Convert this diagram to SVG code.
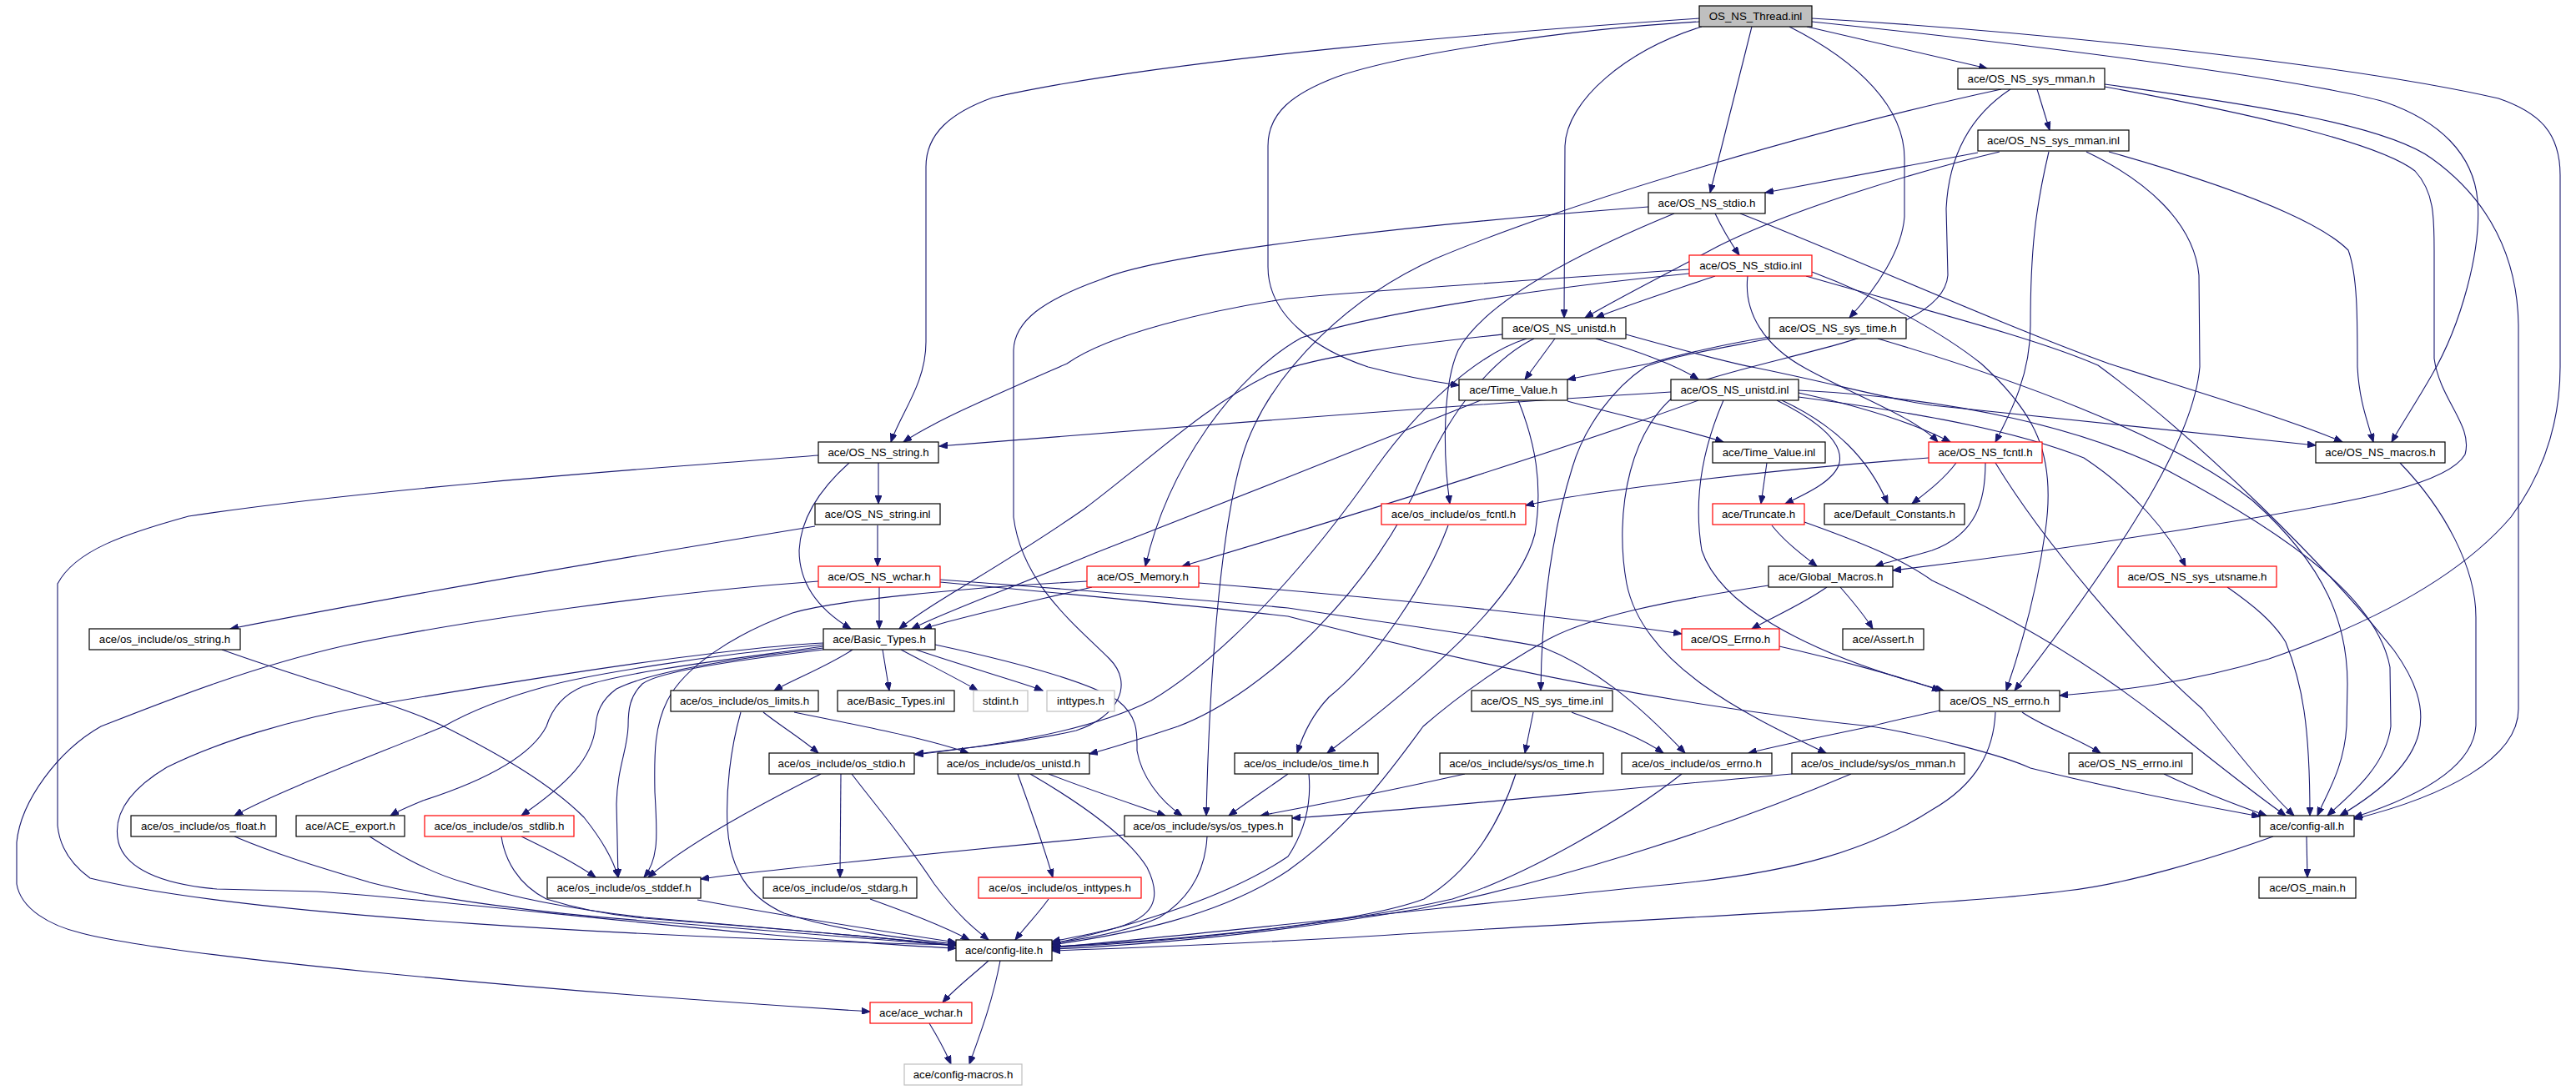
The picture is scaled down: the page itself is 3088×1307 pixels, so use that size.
<svg xmlns="http://www.w3.org/2000/svg" width="3088" height="1307" viewBox="0 0 3088 1307">
<style>
.n rect{fill:#fff;stroke:#000;stroke-width:1.2}
.n.r rect{stroke:#ff0000}
.n.g rect{stroke:#bfbfbf}
.n.root rect{fill:#bfbfbf}
.n text{font-family:"Liberation Sans",Arial,sans-serif;font-size:13.3px;text-anchor:middle;fill:#000}
#edges path{fill:none;stroke:#191970;stroke-width:1.1;marker-end:url(#a)}
</style>
<defs>
<marker id="a" markerWidth="11" markerHeight="8" refX="10" refY="4" orient="auto" markerUnits="userSpaceOnUse"><path d="M0,0 L10,4 L0,8 z" fill="#191970" stroke="#191970" stroke-width="1"/></marker>
</defs>
<rect width="3088" height="1307" fill="#fff"/>
<g id="edges">
<path d="M2037,22 C1800,38 1400,70 1190,117 C1140,135 1110,160 1110,200 L1110,410 C1110,460 1080,495 1068,530"/>
<path d="M2037,26 C1880,35 1680,65 1603,92 C1550,112 1520,135 1520,175 L1520,320 C1520,380 1580,420 1640,440 C1690,453 1720,458 1749,462"/>
<path d="M2040,32 C1950,60 1878,120 1876,175 L1875,381"/>
<path d="M2100,32 L2050,231"/>
<path d="M2145,32 C2230,75 2283,130 2283,190 L2283,260 C2280,300 2250,345 2217,381"/>
<path d="M2166,32 L2382,82"/>
<path d="M2172,22 C2450,38 2820,78 2995,118 C3045,135 3069,160 3069,210 L3069,440 C3069,520 3040,580 3010,620 C2950,690 2850,745 2720,790 C2620,820 2540,828 2469,834"/>
<path d="M2172,26 C2450,55 2760,95 2858,122 C2925,145 2965,185 2970,240 C2975,300 2950,390 2915,450 C2895,485 2878,510 2867,530"/>
<path d="M2442,107 L2457,156"/>
<path d="M2523,101 C2700,125 2860,150 2915,190 C2985,240 3018,310 3019,390 L3019,850 C3019,910 2930,955 2822,982"/>
<path d="M2523,104 C2690,135 2850,170 2895,205 C2918,230 2918,260 2918,300 L2918,430 C2925,480 2965,510 2955,545 C2935,580 2830,600 2690,623 C2560,645 2400,668 2269,684"/>
<path d="M2410,107 C2360,140 2336,190 2333,250 L2335,330 C2330,400 2150,420 2030,460 C1950,500 1935,620 1950,700 C1970,800 2100,860 2189,903"/>
<path d="M2399,107 C2200,150 1900,235 1721,310 C1620,355 1530,440 1495,530 C1465,610 1450,800 1446,978"/>
<path d="M2371,183 L2116,231"/>
<path d="M2397,182 C2300,205 2150,250 2060,295 C1985,335 1935,360 1900,381"/>
<path d="M2456,182 C2440,250 2434,300 2434,390 C2434,450 2410,495 2392,530"/>
<path d="M2501,182 C2570,215 2630,265 2636,330 L2637,440 C2630,520 2560,640 2415,828"/>
<path d="M2528,182 C2680,225 2780,265 2815,300 C2826,330 2826,380 2826,440 C2828,480 2838,505 2845,530"/>
<path d="M2056,256 C2065,275 2074,290 2085,306"/>
<path d="M2007,256 C1900,300 1780,360 1748,420 C1730,460 1729,540 1738,604"/>
<path d="M1976,248 C1750,265 1400,300 1320,335 C1250,360 1216,385 1215,420 L1215,620 C1225,700 1290,750 1330,790 C1360,820 1340,860 1290,876 C1230,890 1150,898 1097,904"/>
<path d="M2086,256 C2200,300 2400,390 2528,436 C2650,475 2750,505 2808,530"/>
<path d="M2025,323 C1800,338 1600,352 1544,358 C1450,372 1330,400 1279,436 C1190,475 1120,505 1083,530"/>
<path d="M2025,328 C1850,345 1650,375 1560,405 C1480,450 1400,560 1373,679"/>
<path d="M2056,331 C2000,350 1950,366 1913,381"/>
<path d="M2095,331 C2090,375 2115,415 2165,442 C2225,475 2295,500 2323,530"/>
<path d="M2165,331 C2300,370 2440,405 2515,438 C2640,530 2790,680 2870,780 C2920,850 2920,910 2805,978"/>
<path d="M2172,326 C2250,355 2330,400 2375,436 C2440,495 2465,545 2452,636 C2440,720 2418,790 2405,828"/>
<path d="M1801,401 C1700,412 1580,425 1520,450 C1440,490 1380,550 1300,610 C1200,680 1120,720 1078,754"/>
<path d="M1864,406 L1828,455"/>
<path d="M1913,406 C1960,420 2010,438 2036,455"/>
<path d="M1830,406 C1770,425 1700,490 1650,560 C1580,660 1480,780 1380,840 C1300,880 1180,895 1097,905"/>
<path d="M1839,406 C1790,430 1740,490 1705,570 C1650,700 1520,830 1412,871 C1370,885 1340,895 1306,904"/>
<path d="M1949,401 C2010,418 2060,432 2100,440 C2200,460 2260,478 2316,486 C2500,505 2650,520 2776,534"/>
<path d="M2121,404 C2070,412 2010,426 1977,436 C1930,445 1900,451 1879,455"/>
<path d="M2121,406 C2060,418 2000,428 1972,440 C1935,465 1900,510 1885,560 C1860,640 1848,730 1847,828"/>
<path d="M2251,406 C2400,450 2600,520 2700,600 C2790,680 2814,750 2814,820 L2813,871 C2810,920 2790,950 2778,978"/>
<path d="M1838,854 L1828,903"/>
<path d="M1884,854 C1920,868 1960,880 1994,903"/>
<path d="M1879,481 C1950,500 2020,515 2066,530"/>
<path d="M1775,480 C1650,530 1450,610 1313,663 C1200,710 1130,735 1093,754"/>
<path d="M1820,480 C1840,530 1850,580 1840,640 C1820,720 1700,820 1591,903"/>
<path d="M2003,470 C1800,482 1500,505 1126,535"/>
<path d="M2036,480 C1900,530 1650,610 1417,679"/>
<path d="M2066,480 C2040,540 2030,600 2040,660 C2060,720 2150,780 2330,828"/>
<path d="M2130,480 C2180,505 2210,530 2205,555 C2200,575 2170,590 2140,604"/>
<path d="M2136,480 C2200,510 2240,550 2263,604"/>
<path d="M2156,471 C2220,485 2290,505 2338,530"/>
<path d="M2156,476 C2260,490 2400,510 2498,549 C2560,590 2600,640 2620,679"/>
<path d="M2156,468 C2350,478 2500,515 2600,565 C2750,645 2850,720 2865,800 L2866,871 C2860,920 2815,955 2790,978"/>
<path d="M2118,555 L2111,604"/>
<path d="M2312,549 C2100,565 1900,590 1829,606"/>
<path d="M2345,555 C2330,575 2310,590 2292,604"/>
<path d="M2380,555 C2380,600 2370,640 2316,660 C2290,668 2265,673 2248,679"/>
<path d="M2392,555 C2450,650 2560,780 2640,850 C2680,900 2720,950 2750,978"/>
<path d="M2877,555 C2930,610 2968,680 2968,740 L2968,870 C2965,920 2900,955 2822,980"/>
<path d="M1736,630 C1710,700 1650,790 1593,836 C1575,855 1562,880 1555,903"/>
<path d="M2190,704 C2160,725 2125,740 2100,754"/>
<path d="M2206,704 C2220,720 2235,738 2245,754"/>
<path d="M2120,702 C2000,720 1900,740 1850,770 C1780,810 1730,850 1706,871 C1670,920 1620,990 1544,1044 C1460,1100 1350,1120 1261,1133"/>
<path d="M2133,775 C2200,790 2280,812 2326,828"/>
<path d="M2124,630 C2140,650 2160,665 2178,679"/>
<path d="M2163,626 C2230,650 2280,670 2316,696 C2400,735 2500,790 2600,870 C2650,910 2700,950 2740,978"/>
<path d="M2670,704 C2700,725 2725,745 2740,770 C2760,820 2769,870 2769,978"/>
<path d="M2424,854 C2450,872 2490,885 2518,903"/>
<path d="M2325,852 C2290,860 2260,866 2243,871 C2190,882 2140,892 2096,903"/>
<path d="M2392,854 C2390,900 2370,940 2316,971 C2240,1020 2150,1045 2016,1059 C1800,1080 1500,1115 1261,1136"/>
<path d="M2594,928 C2640,950 2680,965 2717,978"/>
<path d="M1054,704 L1054,754"/>
<path d="M981,697 C800,710 550,745 414,774 C300,800 200,840 121,871 C70,900 25,960 20,1010 L20,1060 C25,1090 60,1110 98,1119 C200,1145 600,1185 1043,1213"/>
<path d="M1127,695 C1300,708 1450,720 1544,729 C1650,745 1800,765 1849,776 C1910,800 1960,840 2020,903"/>
<path d="M1127,698 C1300,714 1450,728 1544,739 C1700,780 1950,840 2243,871 C2300,880 2400,905 2434,921 C2550,950 2650,968 2709,979"/>
<path d="M1053,555 L1053,604"/>
<path d="M1018,555 C990,580 960,615 958,660 C958,700 980,730 1020,754"/>
<path d="M981,546 C800,560 450,585 226,619 C150,640 90,660 69,700 L69,990 C72,1020 90,1040 108,1053 C300,1100 800,1125 1146,1133"/>
<path d="M1052,630 L1052,679"/>
<path d="M977,631 C800,660 500,710 276,754"/>
<path d="M1309,704 C1220,725 1150,740 1107,754"/>
<path d="M1437,699 C1600,712 1850,735 2016,760"/>
<path d="M1303,697 C1150,705 1000,720 950,735 C880,760 820,800 800,840 C785,870 784,900 785,950 C788,1000 790,1030 772,1052"/>
<path d="M1022,779 C990,800 950,815 928,828"/>
<path d="M1058,779 L1066,828"/>
<path d="M1080,779 C1110,795 1150,815 1172,828"/>
<path d="M1098,779 C1160,800 1230,820 1250,828"/>
<path d="M1121,773 C1200,790 1300,815 1340,840 C1365,860 1363,880 1363,900 C1368,930 1390,960 1417,978"/>
<path d="M987,771 C850,778 600,820 450,845 C350,862 260,890 200,920 C150,950 135,980 142,1010 C150,1040 190,1060 260,1066 L380,1069 C550,1080 900,1125 1146,1137"/>
<path d="M987,773 C850,785 700,810 655,823 C600,838 560,855 532,871 C450,905 330,950 281,978"/>
<path d="M987,775 C880,790 750,805 699,823 C670,835 660,855 655,871 C640,900 600,930 507,960 C490,967 478,972 468,978"/>
<path d="M987,777 C880,790 780,805 739,826 C720,840 715,855 714,871 C710,910 680,940 625,978"/>
<path d="M987,779 C880,792 790,805 770,820 C755,835 753,850 753,871 C752,900 740,920 739,964 L741,1052"/>
<path d="M266,779 C380,820 480,845 532,871 C600,905 660,940 700,980 C720,1005 735,1030 741,1052"/>
<path d="M915,854 C935,870 960,885 981,903"/>
<path d="M952,854 C1030,870 1110,885 1161,903"/>
<path d="M888,854 C875,900 870,950 872,991 C875,1040 895,1075 940,1095 C1000,1115 1080,1125 1146,1132"/>
<path d="M984,928 C900,970 820,1015 777,1052"/>
<path d="M1008,928 L1007,1052"/>
<path d="M1021,928 C1045,960 1080,1000 1120,1060 C1150,1100 1170,1115 1185,1127"/>
<path d="M1257,928 C1300,945 1360,965 1397,978"/>
<path d="M1220,928 C1235,970 1250,1010 1262,1052"/>
<path d="M1235,928 C1290,960 1350,1000 1375,1040 C1395,1080 1380,1100 1340,1112 C1310,1120 1280,1125 1261,1129"/>
<path d="M1348,1001 C1100,1025 900,1045 840,1054"/>
<path d="M1447,1003 C1445,1040 1430,1075 1390,1100 C1350,1118 1300,1126 1261,1131"/>
<path d="M1257,1078 C1245,1095 1230,1110 1217,1127"/>
<path d="M1043,1078 C1090,1095 1130,1110 1162,1127"/>
<path d="M836,1079 C950,1100 1080,1120 1146,1130"/>
<path d="M281,1003 C340,1028 400,1045 443,1058 C520,1078 650,1095 772,1104 C950,1118 1080,1128 1146,1134"/>
<path d="M443,1003 C470,1020 510,1045 556,1058 C620,1078 700,1092 772,1100 C950,1115 1080,1126 1146,1134"/>
<path d="M625,1003 C660,1020 690,1035 714,1052"/>
<path d="M601,1003 C605,1030 620,1060 655,1078 C700,1092 740,1098 772,1101 C950,1115 1080,1126 1146,1134"/>
<path d="M1544,928 C1520,945 1495,962 1473,978"/>
<path d="M1569,928 C1572,960 1566,994 1544,1027 C1480,1070 1380,1105 1261,1132"/>
<path d="M1756,928 C1680,945 1580,965 1511,978"/>
<path d="M1817,928 C1800,980 1770,1040 1707,1078 C1620,1110 1400,1128 1261,1135"/>
<path d="M2016,928 C1950,980 1830,1050 1741,1078 C1600,1110 1400,1130 1261,1136"/>
<path d="M2148,928 C1900,950 1650,975 1549,981"/>
<path d="M2219,928 C2050,1000 1850,1060 1700,1090 C1550,1115 1400,1132 1261,1138"/>
<path d="M2765,1003 L2766,1052"/>
<path d="M2725,1003 C2650,1030 2550,1060 2478,1068 C2350,1085 2000,1100 1600,1125 C1450,1133 1350,1137 1261,1140"/>
<path d="M1185,1152 C1165,1170 1145,1185 1130,1202"/>
<path d="M1199,1152 C1190,1200 1175,1240 1162,1276"/>
<path d="M1114,1227 C1125,1245 1133,1260 1140,1276"/>
</g>
<g id="n_thread" class="n root"><rect x="2037" y="7" width="135" height="25"/><text x="2104.5" y="24">OS_NS_Thread.inl</text></g>
<g id="n_sys_mman_h" class="n"><rect x="2347" y="82" width="176" height="25"/><text x="2435" y="99">ace/OS_NS_sys_mman.h</text></g>
<g id="n_sys_mman_inl" class="n"><rect x="2371" y="156" width="181" height="25"/><text x="2461.5" y="173">ace/OS_NS_sys_mman.inl</text></g>
<g id="n_stdio_h" class="n"><rect x="1976" y="231" width="140" height="25"/><text x="2046" y="248">ace/OS_NS_stdio.h</text></g>
<g id="n_stdio_inl" class="n r"><rect x="2025" y="306" width="147" height="25"/><text x="2098.5" y="323">ace/OS_NS_stdio.inl</text></g>
<g id="n_unistd_h" class="n"><rect x="1801" y="381" width="148" height="25"/><text x="1875" y="398">ace/OS_NS_unistd.h</text></g>
<g id="n_sys_time_h" class="n"><rect x="2121" y="381" width="164" height="25"/><text x="2203" y="398">ace/OS_NS_sys_time.h</text></g>
<g id="n_time_value_h" class="n"><rect x="1749" y="455" width="130" height="25"/><text x="1814" y="472">ace/Time_Value.h</text></g>
<g id="n_unistd_inl" class="n"><rect x="2003" y="455" width="153" height="25"/><text x="2079.5" y="472">ace/OS_NS_unistd.inl</text></g>
<g id="n_string_h" class="n"><rect x="981" y="530" width="144" height="25"/><text x="1053" y="547">ace/OS_NS_string.h</text></g>
<g id="n_time_value_inl" class="n"><rect x="2053" y="530" width="135" height="25"/><text x="2120.5" y="547">ace/Time_Value.inl</text></g>
<g id="n_fcntl_h" class="n r"><rect x="2312" y="530" width="136" height="25"/><text x="2380" y="547">ace/OS_NS_fcntl.h</text></g>
<g id="n_macros_h" class="n"><rect x="2776" y="530" width="155" height="25"/><text x="2853.5" y="547">ace/OS_NS_macros.h</text></g>
<g id="n_string_inl" class="n"><rect x="977" y="604" width="150" height="25"/><text x="1052" y="621">ace/OS_NS_string.inl</text></g>
<g id="n_os_fcntl_h" class="n r"><rect x="1656" y="604" width="173" height="25"/><text x="1742.5" y="621">ace/os_include/os_fcntl.h</text></g>
<g id="n_truncate_h" class="n r"><rect x="2053" y="604" width="110" height="25"/><text x="2108" y="621">ace/Truncate.h</text></g>
<g id="n_default_constants_h" class="n"><rect x="2187" y="604" width="168" height="25"/><text x="2271" y="621">ace/Default_Constants.h</text></g>
<g id="n_wchar_h" class="n r"><rect x="981" y="679" width="146" height="25"/><text x="1054" y="696">ace/OS_NS_wchar.h</text></g>
<g id="n_memory_h" class="n r"><rect x="1303" y="679" width="134" height="25"/><text x="1370" y="696">ace/OS_Memory.h</text></g>
<g id="n_global_macros_h" class="n"><rect x="2120" y="679" width="149" height="25"/><text x="2194.5" y="696">ace/Global_Macros.h</text></g>
<g id="n_sys_utsname_h" class="n r"><rect x="2539" y="679" width="190" height="25"/><text x="2634" y="696">ace/OS_NS_sys_utsname.h</text></g>
<g id="n_os_string_h" class="n"><rect x="107" y="754" width="181" height="25"/><text x="197.5" y="771">ace/os_include/os_string.h</text></g>
<g id="n_basic_types_h" class="n"><rect x="987" y="754" width="134" height="25"/><text x="1054" y="771">ace/Basic_Types.h</text></g>
<g id="n_os_errno_ace" class="n r"><rect x="2016" y="754" width="117" height="25"/><text x="2074.5" y="771">ace/OS_Errno.h</text></g>
<g id="n_assert_h" class="n"><rect x="2209" y="754" width="97" height="25"/><text x="2257.5" y="771">ace/Assert.h</text></g>
<g id="n_os_limits_h" class="n"><rect x="804" y="828" width="177" height="25"/><text x="892.5" y="845">ace/os_include/os_limits.h</text></g>
<g id="n_basic_types_inl" class="n"><rect x="1004" y="828" width="140" height="25"/><text x="1074" y="845">ace/Basic_Types.inl</text></g>
<g id="n_stdint_h" class="n g"><rect x="1167" y="828" width="65" height="25"/><text x="1199.5" y="845">stdint.h</text></g>
<g id="n_inttypes_h" class="n g"><rect x="1255" y="828" width="81" height="25"/><text x="1295.5" y="845">inttypes.h</text></g>
<g id="n_sys_time_inl" class="n"><rect x="1764" y="828" width="169" height="25"/><text x="1848.5" y="845">ace/OS_NS_sys_time.inl</text></g>
<g id="n_ns_errno_h" class="n"><rect x="2325" y="828" width="144" height="25"/><text x="2397" y="845">ace/OS_NS_errno.h</text></g>
<g id="n_os_stdio_h" class="n"><rect x="922" y="903" width="174" height="25"/><text x="1009" y="920">ace/os_include/os_stdio.h</text></g>
<g id="n_os_unistd_h" class="n"><rect x="1124" y="903" width="182" height="25"/><text x="1215" y="920">ace/os_include/os_unistd.h</text></g>
<g id="n_os_time_h" class="n"><rect x="1480" y="903" width="172" height="25"/><text x="1566" y="920">ace/os_include/os_time.h</text></g>
<g id="n_sys_os_time_h" class="n"><rect x="1726" y="903" width="196" height="25"/><text x="1824" y="920">ace/os_include/sys/os_time.h</text></g>
<g id="n_os_errno_h" class="n"><rect x="1944" y="903" width="180" height="25"/><text x="2034" y="920">ace/os_include/os_errno.h</text></g>
<g id="n_sys_os_mman_h" class="n"><rect x="2148" y="903" width="207" height="25"/><text x="2251.5" y="920">ace/os_include/sys/os_mman.h</text></g>
<g id="n_ns_errno_inl" class="n"><rect x="2480" y="903" width="148" height="25"/><text x="2554" y="920">ace/OS_NS_errno.inl</text></g>
<g id="n_os_float_h" class="n"><rect x="157" y="978" width="174" height="25"/><text x="244" y="995">ace/os_include/os_float.h</text></g>
<g id="n_ace_export_h" class="n"><rect x="355" y="978" width="130" height="25"/><text x="420" y="995">ace/ACE_export.h</text></g>
<g id="n_os_stdlib_h" class="n r"><rect x="509" y="978" width="179" height="25"/><text x="598.5" y="995">ace/os_include/os_stdlib.h</text></g>
<g id="n_sys_os_types_h" class="n"><rect x="1348" y="978" width="201" height="25"/><text x="1448.5" y="995">ace/os_include/sys/os_types.h</text></g>
<g id="n_config_all_h" class="n"><rect x="2709" y="978" width="113" height="25"/><text x="2765.5" y="995">ace/config-all.h</text></g>
<g id="n_os_stddef_h" class="n"><rect x="656" y="1052" width="184" height="25"/><text x="748" y="1069">ace/os_include/os_stddef.h</text></g>
<g id="n_os_stdarg_h" class="n"><rect x="915" y="1052" width="184" height="25"/><text x="1007" y="1069">ace/os_include/os_stdarg.h</text></g>
<g id="n_os_inttypes_h" class="n r"><rect x="1173" y="1052" width="195" height="25"/><text x="1270.5" y="1069">ace/os_include/os_inttypes.h</text></g>
<g id="n_os_main_h" class="n"><rect x="2708" y="1052" width="116" height="25"/><text x="2766" y="1069">ace/OS_main.h</text></g>
<g id="n_config_lite_h" class="n"><rect x="1146" y="1127" width="115" height="25"/><text x="1203.5" y="1144">ace/config-lite.h</text></g>
<g id="n_ace_wchar_h" class="n r"><rect x="1043" y="1202" width="122" height="25"/><text x="1104" y="1219">ace/ace_wchar.h</text></g>
<g id="n_config_macros_h" class="n g"><rect x="1084" y="1276" width="141" height="25"/><text x="1154.5" y="1293">ace/config-macros.h</text></g>
</svg>
